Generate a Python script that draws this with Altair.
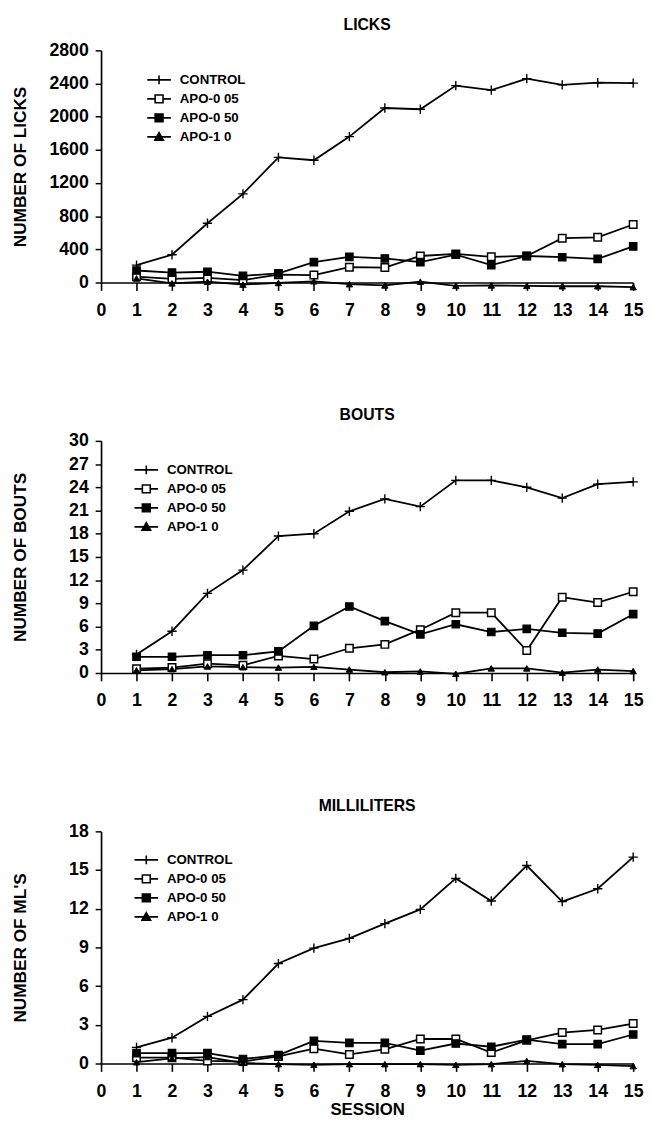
import altair as alt
import pandas as pd

sessions = list(range(1, 16))
series_names = ["CONTROL", "APO-0 05", "APO-0 50", "APO-1 0"]

# LICKS
licks_control = [210, 335, 715, 1070, 1510, 1475, 1760, 2105, 2090, 2375, 2320, 2460, 2385, 2410, 2405]
licks_apo005 = [70, 45, 55, 30, 95, 90, 185, 180, 320, 345, 310, 320, 535, 545, 700]
licks_apo050 = [145, 120, 130, 80, 110, 245, 310, 290, 245, 335, 210, 320, 305, 285, 435]
licks_apo10 = [50, -10, 10, -25, -5, 15, -20, -35, 10, -40, -35, -40, -45, -45, -55]

# BOUTS
bouts_control = [2.4, 5.4, 10.3, 13.3, 17.7, 18.0, 20.9, 22.5, 21.5, 24.9, 24.9, 24.0, 22.6, 24.4, 24.7]
bouts_apo005 = [0.55, 0.7, 1.2, 1.0, 2.2, 1.8, 3.2, 3.7, 5.6, 7.8, 7.8, 2.9, 9.8, 9.1, 10.5]
bouts_apo050 = [2.1, 2.1, 2.3, 2.3, 2.8, 6.1, 8.6, 6.7, 5.0, 6.3, 5.3, 5.7, 5.2, 5.1, 7.6]
bouts_apo10 = [0.35, 0.5, 0.85, 0.75, 0.7, 0.8, 0.45, 0.1, 0.2, -0.1, 0.6, 0.6, 0.05, 0.45, 0.25]

# MILLILITERS
ml_control = [1.25, 2.0, 3.65, 4.95, 7.75, 8.95, 9.7, 10.85, 11.95, 14.35, 12.6, 15.35, 12.55, 13.55, 16.0]
ml_apo005 = [0.45, 0.45, 0.2, 0.15, 0.55, 1.15, 0.7, 1.1, 1.9, 1.9, 0.85, 1.8, 2.4, 2.6, 3.1]
ml_apo050 = [0.8, 0.8, 0.8, 0.35, 0.65, 1.75, 1.6, 1.6, 1.0, 1.55, 1.3, 1.85, 1.5, 1.5, 2.25]
ml_apo10 = [0.1, 0.4, 0.5, 0.05, -0.05, -0.1, -0.05, -0.05, -0.05, -0.1, -0.05, 0.2, -0.05, -0.1, -0.2]

FONT = "Liberation Sans"
W, H = 541, 236

PLUS = "M-1,0H1M0,-1V1"
LEG_PLUS = "M-1.5,0H1.5M0,-0.55V0.55"
LEG_OPEN = "M-1.5,0H-0.5M0.5,0H1.5M-0.5,-0.5H0.5V0.5H-0.5Z"
LEG_SQ = "M-1.5,0H1.5M-0.5,-0.5H0.5V0.5H-0.5Z"
LEG_TRI = "M-1.5,0H1.5M0,-0.55L0.55,0.42H-0.55Z"


def make_df(vals):
    rows = []
    for name, v in zip(series_names, vals):
        for s, y in zip(sessions, v):
            rows.append({"session": s, "value": y, "series": name})
    return pd.DataFrame(rows)


def panel(vals, title, ytitle, ymax, ystep, last, lx, ly):
    df = make_df(vals)
    base = alt.Chart(df)
    x = alt.X(
        "session:Q",
        scale=alt.Scale(domain=[0, 15], nice=False, zero=False),
        axis=alt.Axis(
            values=list(range(0, 16)),
            title="SESSION" if last else None,
            labelFont=FONT, labelFontSize=18, labelFontWeight="bold",
            labelColor="black", labelPadding=11.5, labelFlush=False,
            domainColor="black", domainWidth=1.7,
            tickColor="black", tickWidth=1.6, tickSize=8,
            titleFont=FONT, titleFontSize=17, titleFontWeight="bold",
            titleColor="black", titlePadding=1,
            grid=False,
        ),
    )
    y = alt.Y(
        "value:Q",
        scale=alt.Scale(domain=[0, ymax], nice=False, zero=False),
        axis=alt.Axis(
            values=list(range(0, ymax + 1, ystep)),
            format="d",
            title=ytitle,
            labelFont=FONT, labelFontSize=18, labelFontWeight="bold",
            labelColor="black", labelPadding=7,
            domainColor="black", domainWidth=1.7,
            tickColor="black", tickWidth=1.5, tickSize=6,
            titleFont=FONT, titleFontSize=17.5, titleFontWeight="bold",
            titleColor="black", titleX=-77, titleY=H / 2,
            titleBaseline="alphabetic",
            grid=False,
        ),
    )
    lines = base.mark_line(color="black", strokeWidth=1.8).encode(
        x=x, y=y, detail="series:N", order="session:Q"
    )
    p_ctrl = base.transform_filter(alt.datum.series == "CONTROL").mark_point(
        shape=PLUS, filled=False, stroke="black", strokeWidth=1.4, size=90, opacity=1
    ).encode(x=x, y=y)
    p_open = base.transform_filter(alt.datum.series == "APO-0 05").mark_point(
        shape="square", filled=True, fill="white", stroke="black", strokeWidth=1.5, size=58, opacity=1
    ).encode(x=x, y=y)
    p_sq = base.transform_filter(alt.datum.series == "APO-0 50").mark_point(
        shape="square", filled=True, fill="black", stroke="black", strokeWidth=1.2, size=58, opacity=1
    ).encode(x=x, y=y)
    p_tri = base.transform_filter(alt.datum.series == "APO-1 0").mark_point(
        shape="triangle-up", filled=True, fill="black", stroke="black", strokeWidth=1, size=42, opacity=1
    ).encode(x=x, y=y)

    leg = alt.Legend(
        orient="none", legendX=lx, legendY=ly, title=None,
        labelFont=FONT, labelFontSize=13.5, labelFontWeight="bold", labelColor="black",
        symbolSize=256, symbolStrokeWidth=1.6, symbolStrokeColor="black",
        symbolOpacity=1, labelOffset=12, rowPadding=2.3,
    )
    legend_layer = base.transform_filter(alt.datum.value > 1e9).mark_point(
        filled=True, stroke="black", strokeWidth=1.6
    ).encode(
        x=x, y=y,
        shape=alt.Shape("series:N", scale=alt.Scale(domain=series_names,
                        range=[LEG_PLUS, LEG_OPEN, LEG_SQ, LEG_TRI]), legend=leg),
        fill=alt.Fill("series:N", scale=alt.Scale(domain=series_names,
                      range=["black", "white", "black", "black"]), legend=leg),
        stroke=alt.Stroke("series:N", scale=alt.Scale(domain=series_names,
                          range=["black", "black", "black", "black"]), legend=leg),
    )
    return alt.layer(lines, p_ctrl, p_open, p_sq, p_tri, legend_layer).properties(
        width=W, height=H,
        title=alt.Title(title, font=FONT, fontSize=16, fontWeight="bold", color="black",
                        anchor="middle", frame="group", offset=9.2),
    )


p1 = panel([licks_control, licks_apo005, licks_apo050, licks_apo10],
           "LICKS", "NUMBER OF LICKS", 2800, 400, False, 50, 21)
p2 = panel([bouts_control, bouts_apo005, bouts_apo050, bouts_apo10],
           "BOUTS", "NUMBER OF BOUTS", 30, 3, False, 37, 20.5)
p3 = panel([ml_control, ml_apo005, ml_apo050, ml_apo10],
           "MILLILITERS", "NUMBER OF ML'S", 18, 3, True, 37, 20)

chart = alt.vconcat(p1, p2, p3, spacing=88).resolve_scale(
    shape="independent", fill="independent", stroke="independent"
).resolve_legend(shape="independent", fill="independent", stroke="independent").properties(
    padding={"left": 2.6, "top": -1.2, "right": 0, "bottom": -3},
    background="white",
).configure_view(stroke=None)

chart.save("out.html", embed_options={"renderer": "svg", "actions": False})
